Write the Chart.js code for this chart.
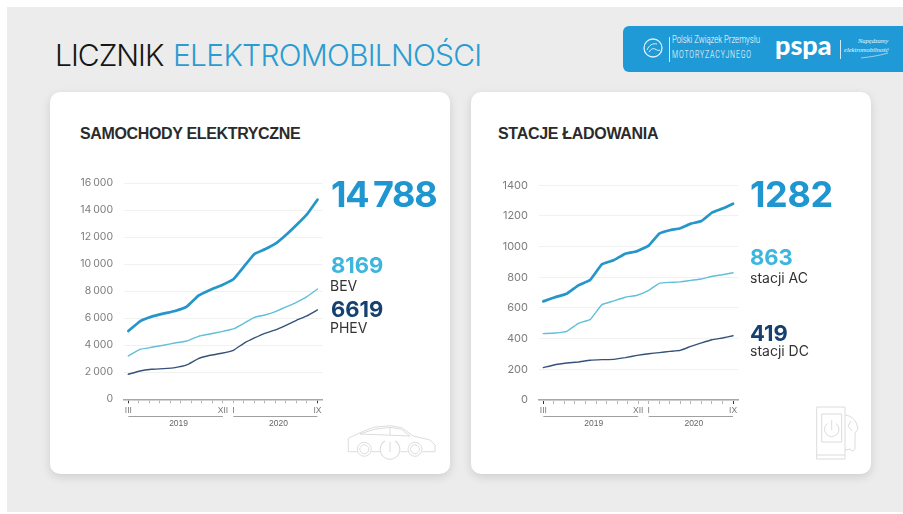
<!DOCTYPE html>
<html lang="pl"><head><meta charset="utf-8">
<script src="https://cdn.jsdelivr.net/npm/chart.js@4"></script>
<style>
html,body{margin:0;padding:0;background:#fff}
#page{position:relative;width:903px;height:514px;overflow:hidden;background:#fff;font-family:"Liberation Sans",sans-serif}
#bg{position:absolute;left:7px;top:7px;right:0;bottom:2px;background:#ececec}
.card{position:absolute;top:92px;width:400px;height:382px;background:#fff;border-radius:10px;box-shadow:0 3px 10px rgba(0,0,0,.13)}
canvas{position:absolute}
.t{position:absolute;white-space:nowrap;line-height:1}
#banner{position:absolute;left:623px;top:26px;width:290px;height:46px;border-radius:6px;background:#1f9ad6}
</style></head><body>
<div id="page">
<div id="bg"></div>
<div class="t" style="left:55px;top:40px;font:300 30px/1 'Inter','Roboto',sans-serif;letter-spacing:-1px;color:#161616">LICZNIK</div>
<div class="t" style="left:173px;top:40px;font:300 30px/1 'Inter','Roboto',sans-serif;letter-spacing:-.75px;color:#2a9cd2">ELEKTROMOBILNOŚCI</div>
<div id="banner"></div>
<svg style="position:absolute;left:638px;top:34px" width="32" height="28" viewBox="0 0 32 28" fill="none" stroke="#dff1fa">
<circle cx="15" cy="14" r="9" stroke-width="1.3"/><path d="M9 16c2-5 6-7 10-6M11 18c2-3 4-4 6-3 2 1 3 2 5 1" stroke-width="1"/></svg>
<div style="position:absolute;left:669px;top:37px;width:1px;height:25px;background:#cfeaf7"></div>
<div class="t" style="left:672px;top:35px;font:300 10.5px/1 'Roboto',sans-serif;color:#fff;transform:scaleX(.74);transform-origin:left">Polski Związek Przemysłu</div>
<div class="t" style="left:672px;top:50px;font:300 10px/1 'Roboto',sans-serif;color:#fff;letter-spacing:1.2px;transform:scaleX(.7);transform-origin:left">MOTORYZACYJNEGO</div>
<div class="t" style="left:775px;top:31px;font:900 27px/1 'Lato',sans-serif;color:#fff;letter-spacing:0">pspa</div>
<div style="position:absolute;left:840px;top:40px;width:1px;height:19px;background:#cfeaf7"></div>
<div class="t" style="left:858px;top:38px;font:italic 400 6.5px/1 'Liberation Serif',serif;color:#eaf6fc">Napędzamy</div>
<div class="t" style="left:844px;top:47px;font:italic 400 6.5px/1 'Liberation Serif',serif;color:#eaf6fc">elektromobilność</div>
<svg style="position:absolute;left:860px;top:52px" width="30" height="8" fill="none" stroke="#cfeaf7" stroke-width=".7"><path d="M1 6c8-1 17-2 27-5"/></svg>

<div class="card" style="left:50px"></div>
<div class="card" style="left:471px"></div>
<div class="t" style="left:80px;top:126px;font:700 16px/1 'Liberation Sans',sans-serif;letter-spacing:-.35px;color:#2b2b2b">SAMOCHODY ELEKTRYCZNE</div>
<div class="t" style="left:498px;top:126px;font:700 16px/1 'Liberation Sans',sans-serif;letter-spacing:-.3px;color:#2b2b2b">STACJE ŁADOWANIA</div>

<canvas id="carsChart" style="left:50px;top:140px" width="300" height="300"></canvas>
<canvas id="stationsChart" style="left:470px;top:140px" width="300" height="300"></canvas>

<div id="labels"></div>

<svg style="position:absolute;left:345px;top:422px" width="94" height="42" viewBox="0 0 94 42" fill="none" stroke="#dcdcdc" stroke-width="1">
<path d="M12.5 29.7H3.3V16.3L15 10.7 28.3 5.3 45 3.7 56.7 5.7 68.3 14 85 18 90 23V29.7H77.5"/>
<path d="M26.5 29.7H35M55.5 29.7H62.5M15 12 29 7.3 45 5.3 56.5 7.3 65 14ZM45 5.3V13"/>
<circle cx="19.3" cy="27.3" r="7"/><circle cx="19.3" cy="27.3" r="4.5"/><circle cx="70" cy="27.3" r="7"/><circle cx="70" cy="27.3" r="4.5"/>
<path d="M40 19a9.8 9.8 0 1 0 10 0M45 19.7V30" stroke-width="1.1"/></svg>
<svg style="position:absolute;left:815px;top:405px" width="48" height="58" viewBox="0 0 48 58" fill="none" stroke="#dcdcdc" stroke-width="1">
<path d="M1.7 54V2H30V54ZM1.7 50H30M6.7 9H26.7V37H6.7Z"/><path d="M12.5 18.5a7.2 7.2 0 1 0 8.5 0M16.7 15V25"/>
<path d="M30 10C36 11 40 14 42 20L43 24 40 28V43C40 46 36 47 35 44L30 45M36 16 33 21 37 26"/></svg>
</div>
<script>
// Values (estimates); the final labels are printed in the reference.
const monthLabels = ['III','','','','','','','','','XII','I','','','','','','','','IX'];
const samplePositions = [0,1.11,2.22,3.33,4.44,5.56,6.67,7.78,8.89,10,11,12,13,14,15,16,17,18];
const yearNames = ['2019','2020'];
const yearFrom = [0,10];
const yearTo = [9,18];

const carsTotal = [5062,5778,6123,6345,6543,6864,7679,8098,8444,8888,9827,10765,11110,11530,12172,12913,13703,14788];
const carsBEV = [3210,3704,3852,4000,4173,4321,4667,4840,5012,5210,5630,6074,6247,6494,6839,7185,7605,8169];
const carsPHEV = [1852,2099,2222,2272,2346,2543,3012,3259,3407,3630,4148,4543,4889,5136,5481,5852,6173,6619];
const carsTicks = [0,2000,4000,6000,8000,10000,12000,14000,16000];

const stationsTotal = [643,670,693,748,783,885,911,954,970,1007,1085,1107,1120,1150,1167,1222,1248,1280];
const stationsAC = [433,437,448,500,524,622,646,670,683,715,761,767,770,780,789,807,817,830];
const stationsDC = [211,230,241,248,259,263,265,276,291,302,309,317,324,350,372,393,404,419];
const stationsTicks = [0,200,400,600,800,1000,1200,1400];

const colTotal='#2596c9', colMid='#62bfd8', colDark='#34527a';
const pair = (ys)=>ys.map((y,i)=>({x:samplePositions[i],y}));

const yearPlugin = {
  id:'years',
  afterDraw(chart){
    const {ctx,scales:{x}} = chart;
    ctx.save();
    yearNames.forEach((n,i)=>{
      const a=x.getPixelForValue(yearFrom[i]), b=x.getPixelForValue(yearTo[i]);
      ctx.strokeStyle='#a0a0a0'; ctx.lineWidth=1.2;
      ctx.beginPath(); ctx.moveTo(a,x.bottom-23.5); ctx.lineTo(b,x.bottom-23.5); ctx.stroke();
      ctx.fillStyle='#666'; ctx.font='8.5px "Liberation Sans",sans-serif';
      ctx.textAlign='center'; ctx.textBaseline='middle';
      ctx.fillText(n,(a+b)/2+3,x.bottom-16.5);
    });
    ctx.restore();
  }
};

function build(id,total,mid,dark,ticks,maxY,names,fmt,fontSize,yW,padR,padT,padB){
  new Chart(document.getElementById(id),{
    type:'line',
    data:{datasets:[
      {label:names[0],data:pair(total),borderColor:colTotal,borderWidth:2.7},
      {label:names[1],data:pair(mid),borderColor:colMid,borderWidth:1.4},
      {label:names[2],data:pair(dark),borderColor:colDark,borderWidth:1.4}
    ]},
    options:{
      responsive:false,animation:false,
      layout:{padding:{top:padT,right:padR,bottom:0,left:0}},
      elements:{point:{radius:0},line:{tension:0.1,borderCapStyle:'round',borderJoinStyle:'round'}},
      plugins:{legend:{display:false},tooltip:{enabled:false}},
      scales:{
        x:{type:'linear',min:-0.41,max:18.5,
          afterBuildTicks(s){s.ticks=monthLabels.map((_,i)=>({value:i}));},
          afterFit(s){s.height=padB;},
          grid:{drawOnChartArea:false,drawTicks:true,tickLength:4,
            color:c=>(c.index===0||c.index===18)?'#333':'#b5b5b5',lineWidth:1},
          border:{color:'#a8a8a8',width:1.6},
          ticks:{autoSkip:false,maxRotation:0,padding:2,color:'#777',font:{size:8.5,family:'"Liberation Sans",sans-serif'},
            callback:v=>monthLabels[v]||''}
        },
        y:{min:0,max:maxY,
          afterBuildTicks(s){s.ticks=ticks.map(v=>({value:v}));},
          afterFit(s){s.width=yW;},
          border:{display:false},
          grid:{color:'#f1f1f1',lineWidth:1,drawTicks:false},
          ticks:{padding:11,color:'#7d7d7d',font:{size:fontSize,family:'"Inter","Liberation Sans",sans-serif'},callback:fmt}
        }
      }
    },
    plugins:[yearPlugin]
  });
}
const spaced=v=>String(v).replace(/\B(?=(\d{3})+$)/g,'\u2009');
build('carsChart',carsTotal,carsBEV,carsPHEV,carsTicks,16000,['Razem','BEV','PHEV'],spaced,10.5,74,27.3,43.3,40.7);
build('stationsChart',stationsTotal,stationsAC,stationsDC,stationsTicks,1400,['Razem','stacji AC','stacji DC'],v=>String(v),11,69,31.7,45.3,40);

const bigLabels = [
 ['14 788',331,176,36,'#1f96d0',700,-1.3,-2.5],
 ['8169',331,254,22,'#3cb6df',700,0,0],
 ['BEV',330,279,14,'#333',400,0,0],
 ['6619',331,298,22,'#15406f',700,0,0],
 ['PHEV',330,321,14,'#333',400,0,0],
 ['1282',750,176,36,'#1f96d0',700,-.4,0],
 ['863',750,246,22,'#3cb6df',700,0,0],
 ['stacji AC',750,271,14,'#333',400,0,0],
 ['419',750,322,22,'#15406f',700,0,0],
 ['stacji DC',750,344,14,'#333',400,0,0]
];
const host=document.getElementById('labels');
bigLabels.forEach(([s,x,y,sz,c,w,ls,ws])=>{
  const d=document.createElement('div');d.className='t';d.textContent=s;
  d.style.cssText=`left:${x}px;top:${y}px;font-size:${sz}px;color:${c};font-weight:${w};letter-spacing:${ls}px;word-spacing:${ws}px;font-family:"Inter","Liberation Sans",sans-serif`;
  host.appendChild(d);
});
</script>
</body></html>
